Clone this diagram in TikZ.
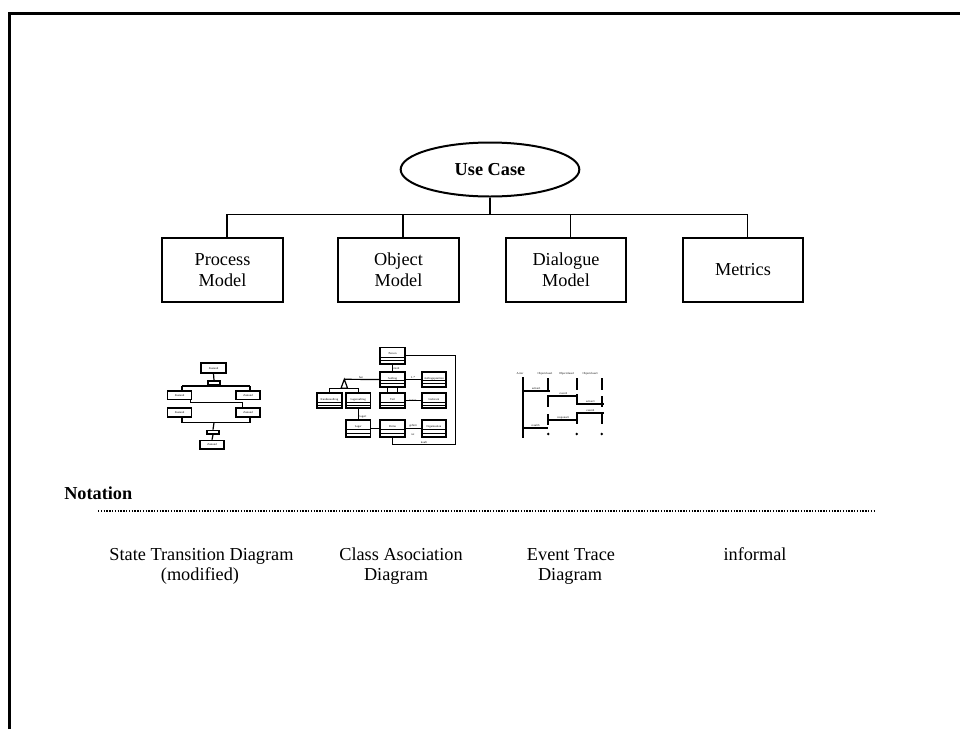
\documentclass[tikz,border=0pt]{standalone}
\usepackage{fontspec}
\setmainfont{Liberation Serif}
\usetikzlibrary{shapes.geometric,calc}
\begin{document}
\begin{tikzpicture}[x=0.75pt,y=-0.75pt,
  main/.style={font=\fontsize{13.7}{16}\selectfont, inner sep=0pt},
  modelbox/.style={draw, line width=1.5pt, minimum width=90.5pt, minimum height=48pt, align=center, font=\fontsize{13.7}{16}\selectfont},
  conn/.style={line width=1.1pt},
  tinyt/.style={font=\fontsize{2.2}{2.6}\selectfont, inner sep=0pt},
  stbox/.style={draw, line width=1.3pt, minimum width=18pt, minimum height=6.4pt, inner sep=0pt, font=\fontsize{2.2}{2.6}\selectfont},
  stbar/.style={draw, line width=1.3pt, minimum width=9.2pt, minimum height=2.5pt, inner sep=0pt},
  mini/.style={line width=0.9pt},
  cls/.style={draw, line width=1.3pt, minimum width=18.4pt, minimum height=11.25pt, inner sep=0pt, font=\fontsize{2.2}{2.6}\selectfont,
    path picture={
      \draw[line width=0.7pt] ($(path picture bounding box.north west)!0.58!(path picture bounding box.south west)$) -- ($(path picture bounding box.north east)!0.58!(path picture bounding box.south east)$);
      \draw[line width=0.7pt] ($(path picture bounding box.north west)!0.8!(path picture bounding box.south west)$) -- ($(path picture bounding box.north east)!0.8!(path picture bounding box.south east)$);
    }},
  evt/.style={line width=1.3pt}
]
\useasboundingbox (0,0) rectangle (960,729);
% frame
\draw[line width=2.25pt] (9.5,729) -- (9.5,13.5) -- (960,13.5);

% top tree
\node[draw, ellipse, line width=1.5pt, minimum width=134pt, minimum height=40.5pt, inner sep=0pt,
      font=\fontsize{13.7}{16}\selectfont\bfseries] (uc) at (490,169.5) {Use Case};
\node[modelbox] (pm) at (222.5,270) {Process\\Model};
\node[modelbox] (om) at (398.5,270) {Object\\Model};
\node[modelbox] (dm) at (566,270) {Dialogue\\Model};
\node[modelbox] (mx) at (743,270) {Metrics};
\coordinate (bus) at (490,214.5);
\coordinate (pmt) at (227,238);
\coordinate (omt) at (403,238);
\coordinate (dmt) at (570.5,238);
\coordinate (mxt) at (747.5,238);
\draw[conn] (uc.south) -- (bus);
\draw[conn] ([yshift=-0.75pt]pm.north -| pmt) |- (bus) -| ([yshift=-0.75pt]mx.north -| mxt);
\draw[conn] ([yshift=-0.75pt]om.north -| omt) -- (omt |- bus);
\draw[conn] ([yshift=-0.75pt]dm.north -| dmt) -- (dmt |- bus);

% ---- mini state transition diagram
\node[stbox, minimum width=18.75pt, minimum height=7.5pt] (s0) at (213.5,368) {Zustand};
\node[stbar] (b1) at (214,382.7) {};
\coordinate (f1L) at (182,386);
\coordinate (f1R) at (250,386);
\coordinate (f1M) at (214,386);
\node[stbox] (s1) at (179.5,395.2) {Zustand};
\node[stbox] (s2) at (248,395.2) {Zustand};
\node[stbox] (s3) at (179.5,412.5) {Zustand};
\node[stbox] (s4) at (248,412.5) {Zustand};
\coordinate (f2L) at (190.7,402.3);
\coordinate (f2R) at (242.7,402.3);
\coordinate (f3L) at (182,422.7);
\coordinate (f3R) at (250,422.7);
\coordinate (f3M) at (214,422.7);
\node[stbar] (b2) at (213,432.2) {};
\node[stbox] (s5) at (212,444.8) {Zustand};
\draw[mini] (s0.south) -- (b1.north);
\draw[mini] (b1.south) -- (f1M);
\draw[mini] (f1L) -- (f1R);
\draw[mini] (f1L) -- (f1L |- s1.north);
\draw[mini] (f1R) -- (f1R |- s2.north);
\draw[mini] (f2L |- s1.south) -- (f2L) -- (f2R) -- (f2R |- s4.north);
\draw[mini] (f3L |- s3.south) -- (f3L) -- (f3R) -- (f3R |- s4.south);
\draw[mini] (f3M) -- (b2.north);
\draw[mini] (b2.south) -- (s5.north);

% ---- mini class association diagram
\node[cls, minimum height=12.5pt] (c1) at (392.5,355.7) {\raisebox{2.6pt}{Person}};
\node[cls, minimum height=10.8pt] (c2) at (392.5,379.5) {\raisebox{2.3pt}{Auftrag}};
\node[cls, minimum height=10.8pt] (c3) at (433.9,379.5) {\raisebox{2.3pt}{Auftragsposition}};
\node[cls] (r3a) at (329.5,400.8) {\raisebox{2.4pt}{Kundenauftrag}};
\node[cls] (r3b) at (358.2,400.8) {\raisebox{2.4pt}{Lagerauftrag}};
\node[cls] (r3c) at (392.5,400.8) {\raisebox{2.4pt}{Teil}};
\node[cls] (r3d) at (433.9,400.8) {\raisebox{2.4pt}{Lieferant}};
\node[cls, minimum height=12.5pt] (r4a) at (358.2,428.3) {\raisebox{2.6pt}{Lager}};
\node[cls, minimum height=12.5pt] (r4b) at (392.5,428.3) {\raisebox{2.6pt}{Firma}};
\node[cls, minimum height=12.5pt] (r4c) at (433.9,428.3) {\raisebox{2.6pt}{Organisation}};
\coordinate (k1) at (455.7,355.7);
\coordinate (k2) at (455.7,444.3);
\coordinate (tri) at (344.3,379.3);
\coordinate (tb) at (344.3,388.3);
\draw[mini] (c1.south) -- (c2.north);
\draw[mini] (c1.east) -- (k1) -- (k2) -| (r4b.south);
\draw[mini] (c2.east) -- (c3.west);
\draw[mini] (c2.west) -- (tri);
\draw[mini, fill=white] (tri) -- ++(-3.3,9) -- ++(6.6,0) -- cycle;
\draw[mini] (r3a.north) |- (tb) -| (r3b.north);
\draw[mini] ([xshift=-3.75pt]c2.south) -- ([xshift=-3.75pt]r3c.north);
\draw[mini] ([xshift=3.75pt]c2.south) -- ([xshift=3.75pt]r3c.north);
\draw[mini] (r3c.east) -- (r3d.west);
\draw[mini] (r3b.south) -- (r4a.north);
\draw[mini] (r4a.east) -- (r4b.west);
\draw[mini] (r4b.east) -- (r4c.west);
\node[tinyt] (lab1) at (361,377) {hat};
\node[tinyt] (lab2) at (396,368) {erteilt};
\node[tinyt] (lab3) at (413,378) {1..*};
\node[tinyt] (lab4) at (413,400) {liefert};
\node[tinyt] (lab5) at (363,417) {lagert};
\node[tinyt] (lab6) at (413,425.5) {gehört};
\node[tinyt] (lab7) at (413,435) {ist};
\node[tinyt] (lab8) at (424,442.5) {kauft};

% ---- mini event trace diagram
\node[tinyt] (hA) at (520,374) {Actor};
\node[tinyt] (h1) at (545,374) {Objectclass1};
\node[tinyt] (h2) at (566.5,374) {Objectclass2};
\node[tinyt] (h3) at (590,374) {Objectclass3};
\coordinate (L0t) at (522.7,377);
\coordinate (L0b) at (522.7,438.3);
\draw[evt] (L0t) -- (L0b);
\foreach \x/\segs in {548.3/{378/390,395/407,414/425}, 576.7/{378/390,394/405,412/424}, 601.7/{378/390,396/407,412/424}}{
  \foreach \a/\b in \segs { \draw[evt] (\x,\a) -- (\x,\b); }
  \fill (\x,434) circle (1pt);
}
\coordinate (m1a) at (522.7,390.7); \coordinate (m1b) at (550,390.7);
\coordinate (m2a) at (548.3,396);   \coordinate (m2b) at (578.3,396);
\coordinate (m3a) at (576.7,404.3); \coordinate (m3b) at (604,404.3);
\coordinate (m4a) at (576.7,412.7); \coordinate (m4b) at (604,412.7);
\coordinate (m5a) at (548.3,420);   \coordinate (m5b) at (578.3,420);
\coordinate (m6a) at (522.7,428.3); \coordinate (m6b) at (548.3,428.3);
\draw[evt] (m1a) -- (m1b);
\draw[evt] (m2a) -- (m2b);
\draw[evt] (m3a) -- (m3b);
\draw[evt] (m4a) -- (m4b);
\draw[evt] (m5a) -- (m5b);
\draw[evt] (m6a) -- (m6b);
\node[tinyt, above=0.8pt] at ($(m1a)!0.5!(m1b)$) {action1};
\node[tinyt, above=0.8pt] at ($(m2a)!0.5!(m2b)$) {event2};
\node[tinyt, above=0.8pt] at ($(m3a)!0.5!(m3b)$) {action3};
\node[tinyt, above=0.8pt] at ($(m4a)!0.5!(m4b)$) {event4};
\node[tinyt, above=0.8pt] at ($(m5a)!0.5!(m5b)$) {response5};
\node[tinyt, above=0.8pt] at ($(m6a)!0.5!(m6b)$) {result6};

% ---- notation
\node[main, font=\fontsize{13.7}{16}\selectfont\bfseries, anchor=base west] (nt) at (64,499) {Notation};
\coordinate (dl) at (98,511);
\coordinate (dr) at (875,511);
\draw[line width=0.9pt, dash pattern=on 1pt off 1.1pt] (dl) -- (dr);

\node[main, anchor=base] (t1a) at (201.5,560.5) {State Transition Diagram};
\node[main, anchor=base] (t1b) at (200,580.5) {(modified)};
\node[main, anchor=base] (t2a) at (401,560.5) {Class Asociation};
\node[main, anchor=base] (t2b) at (396,580.5) {Diagram};
\node[main, anchor=base] (t3a) at (571,560.5) {Event Trace};
\node[main, anchor=base] (t3b) at (570,580.5) {Diagram};
\node[main, anchor=base] (t4a) at (755,560.5) {informal};
\end{tikzpicture}
\end{document}
